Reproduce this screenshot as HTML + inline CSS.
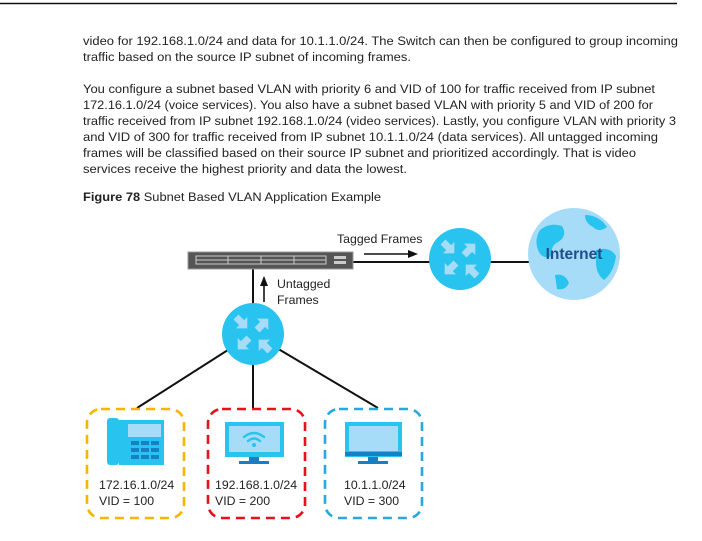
<!DOCTYPE html>
<html><head><meta charset="utf-8"><style>
html,body{margin:0;padding:0;background:#fff;}
svg{display:block;}
text{font-family:"Liberation Sans",sans-serif;fill:#222;}
</style></head><body>
<svg width="702" height="541" viewBox="0 0 702 541" xmlns="http://www.w3.org/2000/svg">
<defs>
<polygon id="ar" points="0,-3.5 8,-3.5 8,-8 16,0 8,8 8,3.5 0,3.5" fill="#a6dcf7"/>
<g id="r">
<circle cx="0" cy="0" r="31" fill="#29c3ef"/>
<use href="#ar" transform="translate(-17,-17) rotate(45)"/>
<use href="#ar" transform="translate(4,-4) rotate(-45)"/>
<use href="#ar" transform="translate(-4,4) rotate(135)"/>
<use href="#ar" transform="translate(17,17) rotate(-135)"/>
</g>
</defs>
<line x1="0" y1="3.5" x2="677" y2="3.5" stroke="#111" stroke-width="1.5"/>
<g font-size="12.3">
<text x="83" y="45" textLength="595" lengthAdjust="spacingAndGlyphs">video for 192.168.1.0/24 and data for 10.1.1.0/24. The Switch can then be configured to group incoming</text>
<text x="83" y="61" textLength="328" lengthAdjust="spacingAndGlyphs">traffic based on the source IP subnet of incoming frames.</text>
<text x="83" y="93" textLength="572" lengthAdjust="spacingAndGlyphs">You configure a subnet based VLAN with priority 6 and VID of 100 for traffic received from IP subnet</text>
<text x="83" y="109" textLength="570" lengthAdjust="spacingAndGlyphs">172.16.1.0/24 (voice services). You also have a subnet based VLAN with priority 5 and VID of 200 for</text>
<text x="83" y="125" textLength="593" lengthAdjust="spacingAndGlyphs">traffic received from IP subnet 192.168.1.0/24 (video services). Lastly, you configure VLAN with priority 3</text>
<text x="83" y="141" textLength="575" lengthAdjust="spacingAndGlyphs">and VID of 300 for traffic received from IP subnet 10.1.1.0/24 (data services). All untagged incoming</text>
<text x="83" y="157" textLength="553" lengthAdjust="spacingAndGlyphs">frames will be classified based on their source IP subnet and prioritized accordingly. That is video</text>
<text x="83" y="173" textLength="324" lengthAdjust="spacingAndGlyphs">services receive the highest priority and data the lowest.</text>
<text x="83" y="201" textLength="298" lengthAdjust="spacingAndGlyphs"><tspan font-weight="bold">Figure 78</tspan>   Subnet Based VLAN Application Example</text>
</g>
<g stroke="#111" stroke-width="2" fill="none">
<line x1="353" y1="262" x2="460" y2="262"/>
<line x1="460" y1="262" x2="574" y2="262"/>
<line x1="253" y1="268" x2="253" y2="334"/>
<line x1="253" y1="334" x2="137" y2="408"/>
<line x1="253" y1="334" x2="253" y2="408"/>
<line x1="253" y1="334" x2="378" y2="408"/>
<line x1="364" y1="254" x2="410" y2="254" stroke-width="1.6"/>
<line x1="264" y1="302" x2="264" y2="284" stroke-width="1.6"/>
</g>
<polygon points="418,254 408,250 408,258" fill="#111"/>
<polygon points="264,276 260,286 268,286" fill="#111"/>
<rect x="188" y="252" width="165" height="17" fill="#555" stroke="#999" stroke-width="1"/>
<g fill="none" stroke="#ccc" stroke-width="1">
<rect x="196" y="256" width="130" height="8"/>
<line x1="196" y1="260" x2="326" y2="260"/>
<line x1="228" y1="256" x2="228" y2="264"/><line x1="261" y1="256" x2="261" y2="264"/><line x1="294" y1="256" x2="294" y2="264"/>
</g>
<rect x="334" y="256" width="12" height="3" fill="#ccc"/><rect x="334" y="261" width="12" height="3" fill="#ccc"/>
<circle cx="574" cy="254" r="46" fill="#a6dcf7"/>
<path d="M540 230 q10 -8 22 -4 q6 10 -4 16 q-8 4 -6 14 q-10 4 -14 -6 q-4 -10 2 -20z M585 215 q14 0 22 12 q-8 6 -14 0 q-8 -4 -8 -12z M596 250 q14 -4 20 6 q-2 16 -12 24 q-8 -6 -8 -18z M555 275 q10 -2 14 8 q-4 8 -12 6z" fill="#29c3ef"/>
<text x="574" y="259" text-anchor="middle" font-size="15.5" font-weight="bold" style="fill:#1f4e8c">Internet</text>
<use href="#r" transform="translate(460,259)"/>
<use href="#r" transform="translate(253,334)"/>
<g font-size="12.3">
<text x="337" y="243">Tagged Frames</text>
<text x="277" y="288">Untagged</text>
<text x="277" y="304">Frames</text>
</g>
<g fill="none" stroke-width="2.6" stroke-dasharray="9 6">
<rect x="87" y="409" width="97" height="109" rx="14" stroke="#f7b500"/>
<rect x="208" y="409" width="97" height="109" rx="14" stroke="#e8101a"/>
<rect x="325" y="409" width="97" height="109" rx="14" stroke="#29a8e0"/>
</g>
<rect x="107" y="418" width="12" height="47" rx="3" fill="#29c3ef"/>
<rect x="119" y="420" width="45" height="45" fill="#29c3ef"/>
<rect x="128" y="424" width="33" height="13" fill="#a6dcf7"/>
<g fill="#1a7fc2">
<rect x="131" y="441" width="8" height="4"/><rect x="141" y="441" width="8" height="4"/><rect x="151" y="441" width="8" height="4"/>
<rect x="131" y="448" width="8" height="4"/><rect x="141" y="448" width="8" height="4"/><rect x="151" y="448" width="8" height="4"/>
<rect x="131" y="455" width="8" height="4"/><rect x="141" y="455" width="8" height="4"/><rect x="151" y="455" width="8" height="4"/>
</g>
<rect x="225" y="422" width="59" height="35" fill="#29c3ef"/>
<rect x="229" y="426" width="51" height="26" fill="#a6dcf7"/>
<rect x="249" y="457" width="10" height="4" fill="#1a7fc2"/><rect x="239" y="461" width="30" height="3" fill="#1a7fc2"/>
<g fill="none" stroke="#29c3ef" stroke-width="2.4" stroke-linecap="round">
<path d="M244 437 q10 -8 20 0"/><path d="M248 441 q6 -5 12 0"/>
</g>
<circle cx="254" cy="445" r="2" fill="#29c3ef"/>
<rect x="345" y="422" width="57" height="35" fill="#29c3ef"/>
<rect x="349" y="426" width="49" height="25" fill="#a6dcf7"/>
<rect x="345" y="452" width="57" height="4" fill="#1a7fc2"/>
<rect x="368" y="457" width="10" height="4" fill="#1a7fc2"/><rect x="358" y="461" width="30" height="3" fill="#1a7fc2"/>
<g font-size="12.3">
<text x="99" y="489">172.16.1.0/24</text><text x="99" y="505">VID = 100</text>
<text x="215" y="489">192.168.1.0/24</text><text x="215" y="505">VID = 200</text>
<text x="344" y="489">10.1.1.0/24</text><text x="344" y="505">VID = 300</text>
</g>
</svg>
</body></html>
